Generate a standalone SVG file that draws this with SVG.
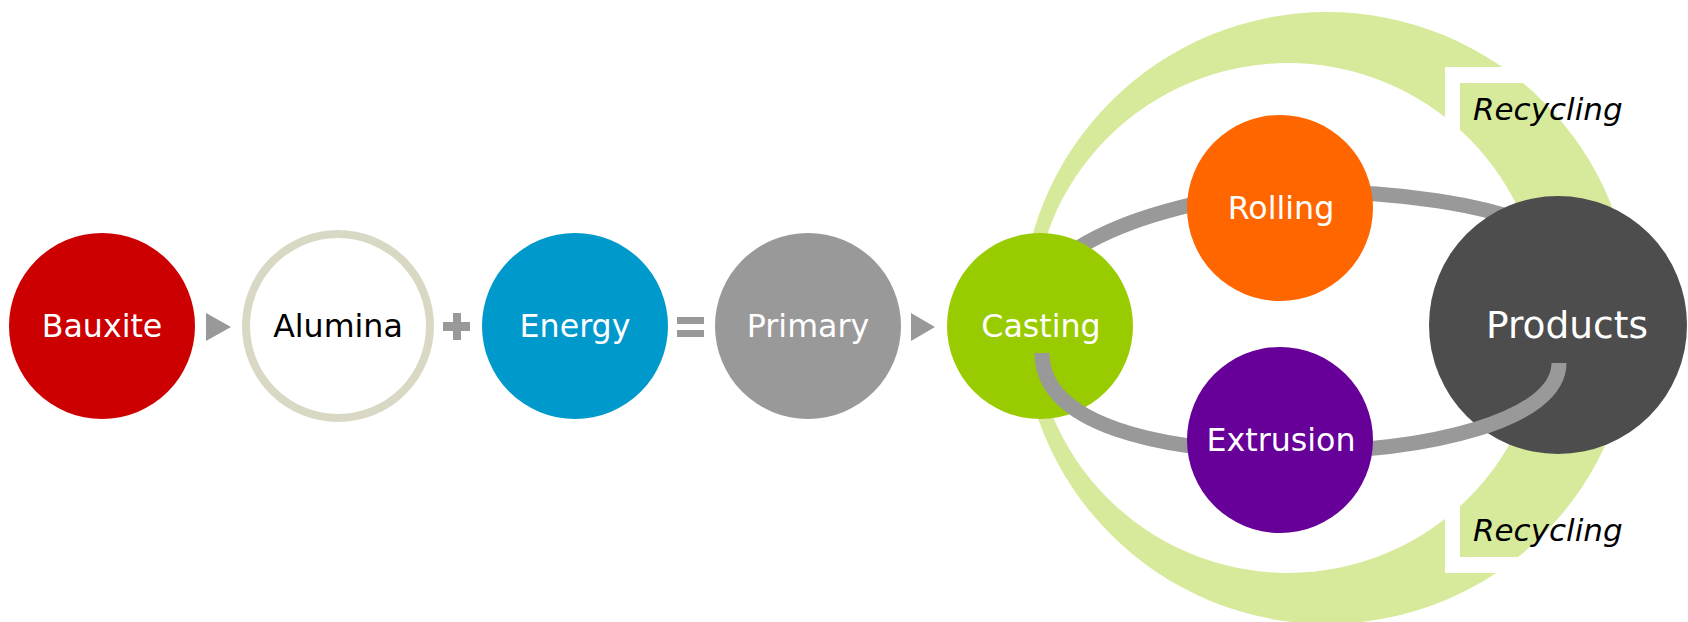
<svg xmlns="http://www.w3.org/2000/svg" width="1688" height="622" viewBox="0 0 1688 622">
<style>
.lbl{font-family:"DejaVu Sans",Verdana,sans-serif;font-size:31.7px;fill:#FFFFFF;text-anchor:middle}
.rec{font-family:"DejaVu Sans",Verdana,sans-serif;font-size:31px;font-style:italic;fill:#000000}
.op{fill:#999999}
.path{fill:none;stroke:#999999;stroke-width:15}
</style>
<rect width="1688" height="622" fill="#FFFFFF"/>
<g id="recycling-ring">
<path d="M1021,318 A306,306 0 1,0 1633,318 A306,306 0 1,0 1021,318 Z M1033,318 A255,255 0 1,0 1543,318 A255,255 0 1,0 1033,318 Z" fill="#D7EA9B" fill-rule="evenodd"/>
<path d="M1445,67 H1560 V83 H1460 V140 H1445 Z" fill="#FFFFFF"/>
<path d="M1445,573 H1560 V557 H1460 V490 H1445 Z" fill="#FFFFFF"/>
<text class="rec" x="1473" y="120">Recycling</text>
<text class="rec" x="1473" y="541">Recycling</text>
</g>
<g id="connectors">
<polygon class="op" points="206,313 231,327 206,341"/>
<rect class="op" x="443" y="322" width="27" height="9"/>
<rect class="op" x="453" y="313" width="8" height="27"/>
<rect class="op" x="677" y="317" width="27" height="7"/>
<rect class="op" x="677" y="330" width="27" height="7"/>
<polygon class="op" points="911,313 935,327 911,341"/>
<path id="top-loop" class="path" d="M1045,275 C1090,225 1200,195 1290,192 C1400,190 1490,205 1545,230"/>
</g>
<g id="bauxite">
<circle cx="102" cy="326" r="93" fill="#CC0000"/>
<text class="lbl" x="102" y="337">Bauxite</text>
</g>
<g id="alumina">
<circle cx="338" cy="326" r="92" fill="#FFFFFF" stroke="#D8D8C4" stroke-width="8"/>
<text class="lbl" x="338" y="337" style="fill:#000000">Alumina</text>
</g>
<g id="energy">
<circle cx="575" cy="326" r="93" fill="#0099CC"/>
<text class="lbl" x="575" y="337">Energy</text>
</g>
<g id="primary">
<circle cx="808" cy="326" r="93" fill="#999999"/>
<text class="lbl" x="808" y="337">Primary</text>
</g>
<g id="casting">
<circle cx="1040" cy="326" r="93" fill="#99CC00"/>
<text class="lbl" x="1041" y="337">Casting</text>
</g>
<g id="rolling">
<circle cx="1280" cy="208" r="93" fill="#FF6600"/>
<text class="lbl" x="1281" y="219">Rolling</text>
</g>
<g id="products">
<circle cx="1558" cy="325" r="129" fill="#4D4D4D"/>
<text class="lbl" x="1567" y="338" style="font-size:37.5px">Products</text>
</g>
<g id="connectors-front">
<path id="bottom-loop" class="path" d="M1042,353 C1042,425 1160,452 1290,452 C1430,452 1559,420 1559,363"/>
</g>
<g id="extrusion">
<circle cx="1280" cy="440" r="93" fill="#660099"/>
<text class="lbl" x="1281" y="451">Extrusion</text>
</g>
</svg>
